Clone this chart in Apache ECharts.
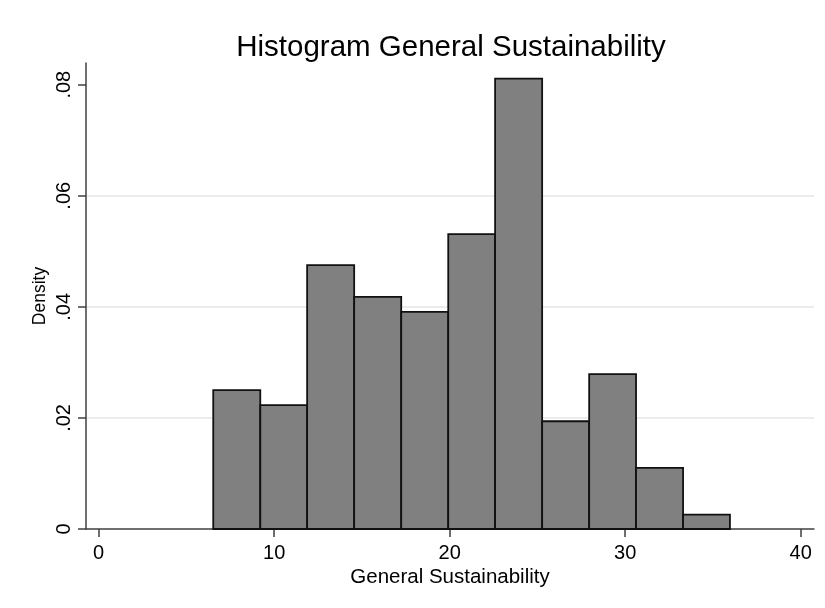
<!DOCTYPE html>
<html>
<head>
<meta charset="utf-8">
<script src="https://cdn.jsdelivr.net/npm/echarts@6/dist/echarts.min.js"></script>
<style>html,body{margin:0;padding:0;background:#fff;}#c{width:825px;height:608px;}</style>
</head>
<body>
<div id="c"></div>
<script>
var titleText = 'Histogram General Sustainability';
var xName = 'General Sustainability';
var yName = 'Density';
var binEdges = [6.53, 9.21, 11.88, 14.56, 17.24, 19.92, 22.59, 25.27, 27.95, 30.62, 33.30, 35.97];
var densities = [0.0250, 0.0223, 0.0475, 0.0418, 0.0391, 0.0531, 0.0811, 0.0194, 0.0279, 0.0110, 0.0026];
var xTicks = [0, 10, 20, 30, 40];
var yTicks = [0, 0.02, 0.04, 0.06, 0.08];

var data = densities.map(function (d, i) { return [binEdges[i], binEdges[i + 1], d]; });
var font = '"Liberation Sans", Arial, sans-serif';

var chart = echarts.init(document.getElementById('c'), null, {renderer: 'canvas'});
chart.setOption({
  animation: false,
  backgroundColor: '#ffffff',
  title: {
    text: titleText, left: 446, textAlign: 'center', top: 28,
    textStyle: {fontFamily: font, fontSize: 29.5, fontWeight: 'normal', color: '#000'}
  },
  grid: {left: 86, right: 11, top: 63, bottom: 79, containLabel: false},
  xAxis: {
    type: 'value', min: -0.72, max: 40.76,
    name: xName, nameLocation: 'middle', nameGap: 38, nameMoveOverlap: false,
    nameTextStyle: {fontFamily: font, fontSize: 20.5, color: '#000'},
    axisLine: {show: true, onZero: false, lineStyle: {color: '#404040', width: 1.5}},
    axisTick: {show: true, length: 8, customValues: xTicks, lineStyle: {color: '#404040', width: 1.5}},
    axisLabel: {customValues: xTicks, margin: 14, fontFamily: font, fontSize: 20, color: '#000'},
    splitLine: {show: false}
  },
  yAxis: {
    type: 'value', min: 0, max: 0.0839,
    name: yName, nameLocation: 'middle', nameGap: 37, nameRotate: 90, nameMoveOverlap: false,
    nameTextStyle: {fontFamily: font, fontSize: 17.5, color: '#000'},
    axisLine: {show: true, onZero: false, lineStyle: {color: '#404040', width: 1.5}},
    axisTick: {show: true, length: 8, customValues: yTicks, lineStyle: {color: '#404040', width: 1.5}},
    axisLabel: {
      customValues: yTicks, rotate: 90, margin: 12, fontFamily: font, fontSize: 20, color: '#000',
      formatter: function (v) { return v === 0 ? '0' : String(Math.round(v * 100) / 100).replace(/^0/, ''); }
    },
    splitLine: {show: true, showMinLine: false, showMaxLine: false, lineStyle: {color: '#e6e6e6', width: 1.5}}
  },
  series: [{
    type: 'custom',
    data: data,
    encode: {x: [0, 1], y: 2},
    renderItem: function (params, api) {
      var p0 = api.coord([api.value(0), api.value(2)]);
      var p1 = api.coord([api.value(1), 0]);
      return {
        type: 'rect',
        shape: {x: p0[0], y: p0[1], width: p1[0] - p0[0], height: p1[1] - p0[1]},
        style: {fill: '#808080', stroke: '#111111', lineWidth: 1.8}
      };
    }
  }]
});
</script>
</body>
</html>
